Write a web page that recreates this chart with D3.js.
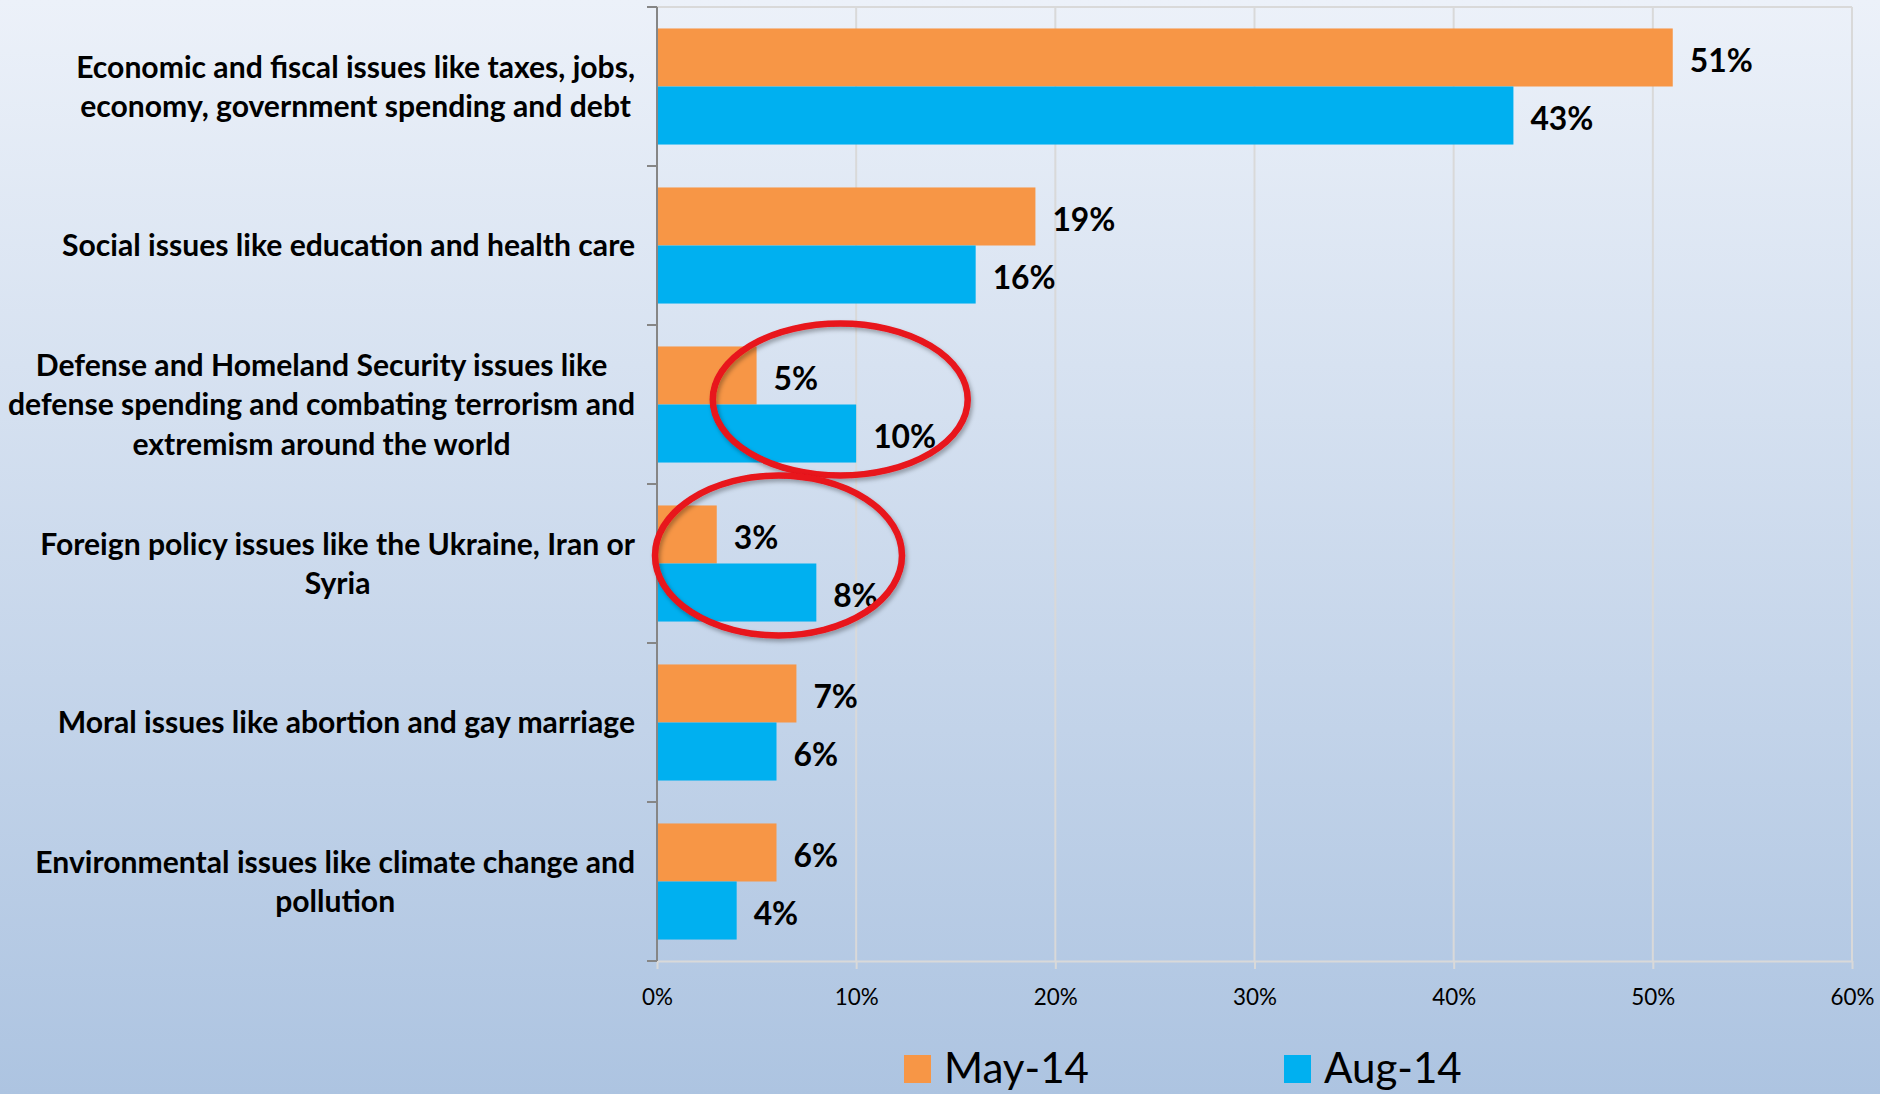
<!DOCTYPE html>
<html>
<head>
<meta charset="utf-8">
<script src="https://cdn.jsdelivr.net/npm/d3@7"></script>
<style>
  html, body { margin: 0; padding: 0; overflow: hidden; }
  svg { display: block; }
</style>
</head>
<body>
<svg id="chart" width="1880" height="1094"></svg>
<script>
// Survey categories ("|" marks a line break in the axis label)
const categories = [
  "Economic and fiscal issues like taxes, jobs,|economy, government spending and debt",
  "Social issues like education and health care",
  "Defense and Homeland Security issues like|defense spending and combating terrorism and|extremism around the world",
  "Foreign policy issues like the Ukraine, Iran or|Syria",
  "Moral issues like abortion and gay marriage",
  "Environmental issues like climate change and|pollution"
];
const seriesNames = ["May-14", "Aug-14"];
const may14 = [51, 19, 5, 3, 7, 6];
const aug14 = [43, 16, 10, 8, 6, 4];
const xTicks = [0, 10, 20, 30, 40, 50, 60];
// Categories circled in red
const highlighted = [categories[2], categories[3]];

const colors = { "May-14": "#F79646", "Aug-14": "#00B0F0" };
const FONT = "Lato, 'Open Sans', 'DejaVu Sans', sans-serif";

const svg = d3.select("#chart");
const W = 1880, H = 1094;
const plot = { left: 657, right: 1852, top: 7, bottom: 961 };

// Background gradient
const defs = svg.append("defs");
const bg = defs.append("linearGradient").attr("id", "bg")
  .attr("x1", 0).attr("y1", 0).attr("x2", 0).attr("y2", 1);
bg.append("stop").attr("offset", "0%").attr("stop-color", "#ecf1f9");
bg.append("stop").attr("offset", "100%").attr("stop-color", "#adc4e1");
const shadow = defs.append("filter").attr("id", "shadow")
  .attr("x", "-20%").attr("y", "-20%").attr("width", "140%").attr("height", "140%");
shadow.append("feDropShadow").attr("dx", 2).attr("dy", 3)
  .attr("stdDeviation", 2).attr("flood-color", "#000").attr("flood-opacity", 0.3);

svg.append("rect").attr("width", W).attr("height", H).attr("fill", "url(#bg)");

// Scales
const x = d3.scaleLinear().domain([0, 60]).range([plot.left, plot.right]);
const y = d3.scaleBand().domain(categories).range([plot.top, plot.bottom])
  .paddingInner(0.27).paddingOuter(0.135);
const ys = d3.scaleBand().domain(seriesNames).range([0, y.bandwidth()]);

const rows = categories.map((c, i) => ({ cat: c, "May-14": may14[i], "Aug-14": aug14[i] }));

// Text measuring helper
function measure(text, size, weight) {
  const t = svg.append("text").attr("font-family", FONT).attr("font-size", size)
    .attr("font-weight", weight).text(text);
  const w = t.node().getComputedTextLength();
  t.remove();
  return w;
}
function fitSize(text, targetWidth, weight) {
  return 40 * targetWidth / measure(text, 40, weight);
}

// Gridlines and plot frame
const grid = svg.append("g");
grid.selectAll("line.v").data(xTicks).join("line")
  .attr("x1", d => x(d)).attr("x2", d => x(d))
  .attr("y1", plot.top).attr("y2", plot.bottom)
  .attr("stroke", "#d9d9d9").attr("stroke-width", 2);
grid.append("line")
  .attr("x1", plot.left).attr("x2", plot.right)
  .attr("y1", plot.top).attr("y2", plot.top)
  .attr("stroke", "#d9d9d9").attr("stroke-width", 2);

// X axis
const tickFont = fitSize("10%", 44, 400);
const xAxis = svg.append("g").attr("transform", `translate(0,${plot.bottom})`)
  .call(d3.axisBottom(x).tickValues(xTicks).tickFormat(d => d + "%").tickSize(8).tickSizeOuter(0));
xAxis.select(".domain").attr("stroke", "#d9d9d9").attr("stroke-width", 2);
xAxis.selectAll(".tick line").attr("stroke", "#d9d9d9").attr("stroke-width", 2);
xAxis.selectAll(".tick text").attr("y", 44).attr("dy", null)
  .attr("font-family", FONT).attr("font-size", tickFont).attr("fill", "#000");

// Bars
const groups = svg.append("g").selectAll("g").data(rows).join("g")
  .attr("transform", d => `translate(0,${y(d.cat)})`);
groups.selectAll("rect").data(d => seriesNames.map(s => ({ s, v: d[s] }))).join("rect")
  .attr("x", x(0)).attr("y", d => ys(d.s))
  .attr("width", d => x(d.v) - x(0)).attr("height", ys.bandwidth())
  .attr("fill", d => colors[d.s]);

// Value labels
const valFont = fitSize("51%", 63, 700);
groups.selectAll("text").data(d => seriesNames.map(s => ({ s, v: d[s] }))).join("text")
  .attr("x", d => x(d.v) + 17)
  .attr("y", d => ys(d.s) + ys.bandwidth() / 2 + valFont * 0.36 + 3)
  .attr("font-family", FONT).attr("font-weight", 700).attr("font-size", valFont)
  .attr("fill", "#000").text(d => d.v + "%");

// Y axis with ticks on band boundaries
const step = y.step();
const yAxis = svg.append("g");
yAxis.append("line").attr("x1", plot.left).attr("x2", plot.left)
  .attr("y1", plot.top).attr("y2", plot.bottom)
  .attr("stroke", "#868686").attr("stroke-width", 2);
yAxis.selectAll("line.tk").data(d3.range(categories.length + 1)).join("line")
  .attr("class", "tk")
  .attr("x1", plot.left - 10).attr("x2", plot.left)
  .attr("y1", i => plot.top + i * step).attr("y2", i => plot.top + i * step)
  .attr("stroke", "#868686").attr("stroke-width", 2);

// Category labels: right-aligned blocks, lines centred within each block
const labelRight = 635;
const catFont = fitSize("defense spending and combating terrorism and", 627, 700);
const lineH = 39.5;
categories.forEach(c => {
  const lines = c.split("|");
  const wMax = d3.max(lines, l => measure(l, catFont, 700));
  const cx = labelRight - wMax / 2;
  const cy = y(c) + y.bandwidth() / 2;
  const t = svg.append("text").attr("font-family", FONT).attr("font-weight", 700)
    .attr("font-size", catFont).attr("text-anchor", "middle").attr("fill", "#000");
  lines.forEach((l, i) => {
    t.append("tspan").attr("x", cx)
      .attr("y", cy + (i - (lines.length - 1) / 2) * lineH + catFont * 0.36)
      .text(l);
  });
});

// Red highlight ellipses around the shifted categories
const ellipseGeom = [
  { cat: highlighted[0], cx: 9.2, rx: 6.4, dy: -5, ry: 76 },
  { cat: highlighted[1], cx: 6.1, rx: 6.2, dy: -8, ry: 80 }
];
svg.append("g").selectAll("ellipse").data(ellipseGeom).join("ellipse")
  .attr("cx", d => x(d.cx))
  .attr("cy", d => y(d.cat) + y.bandwidth() / 2 + d.dy)
  .attr("rx", d => x(d.rx) - x(0))
  .attr("ry", d => d.ry)
  .attr("fill", "none").attr("stroke", "#e8141b").attr("stroke-width", 6.5)
  .attr("filter", "url(#shadow)");

// Legend
const legFont = fitSize("May-14", 145, 400);
const legendPos = [904, 1284];
const legend = svg.append("g").selectAll("g").data(seriesNames).join("g")
  .attr("transform", (d, i) => `translate(${legendPos[i]},1055)`);
legend.append("rect").attr("width", 27).attr("height", 28).attr("fill", d => colors[d]);
legend.append("text").attr("x", 40).attr("y", 28)
  .attr("font-family", FONT).attr("font-size", legFont).attr("fill", "#000").text(d => d);
</script>
</body>
</html>
